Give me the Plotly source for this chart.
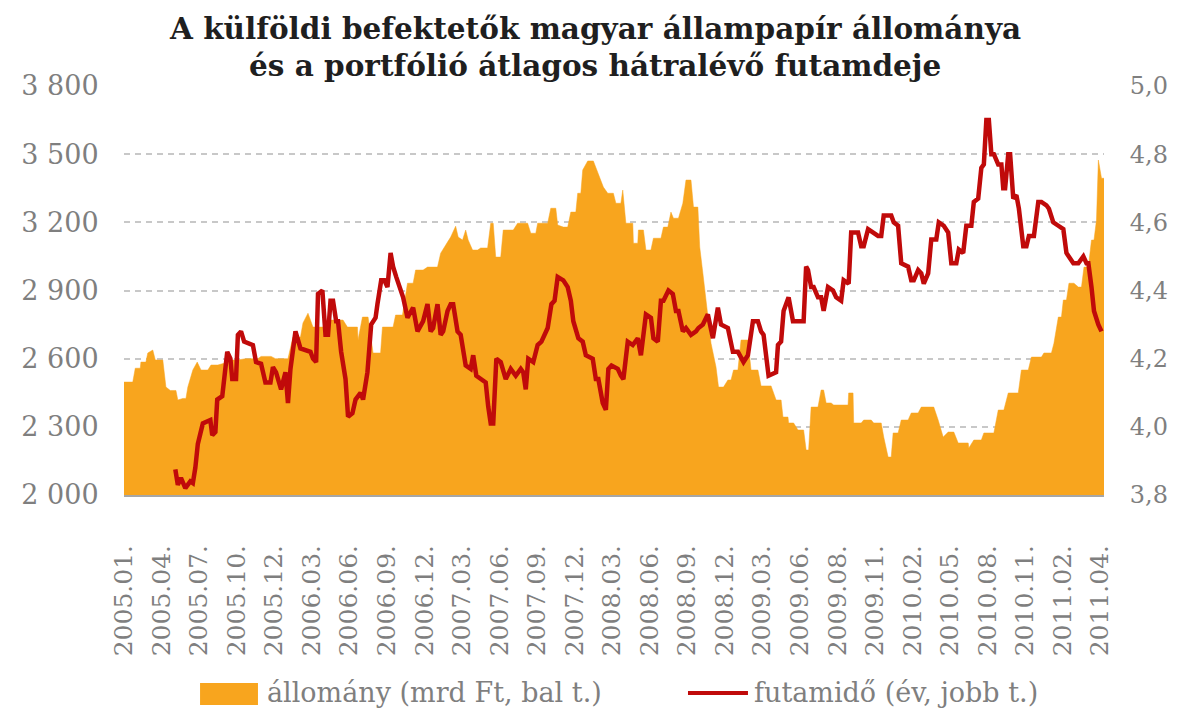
import plotly.graph_objects as go

# Trading-day index (labels every 60 trading days) and values
stock_day = [0, 14, 18, 26, 27, 35, 38, 46, 50, 62, 67, 74, 83, 86, 94, 99, 102, 110, 117, 123,
             134, 139, 150, 160, 171, 182, 194, 214, 219, 235, 242, 262, 270, 282, 286, 294, 302, 318, 325, 350,
             357, 373, 374, 381, 390, 398, 410, 413, 430, 434, 445, 453, 462, 466, 478, 485, 501, 506, 517, 522,
             530, 534, 541, 546, 550, 557, 565, 570, 581, 586, 590, 594, 602, 606, 622, 629, 645, 650, 658, 661,
             677, 682, 690, 693, 702, 709, 714, 722, 725, 730, 733, 741, 750, 757, 766, 773, 782, 786, 794, 797,
             802, 813, 814, 821, 822, 830, 834, 842, 846, 858, 862, 869, 874, 878, 886, 893, 898, 906, 910, 917,
             920, 925, 930, 938, 946, 950, 958, 965, 970, 974, 981, 986, 997, 1002, 1013, 1018, 1034, 1042, 1050, 1053,
             1061, 1062, 1070, 1077, 1086, 1090, 1094, 1098, 1109, 1114, 1118, 1122, 1130, 1134, 1157, 1158, 1165, 1166, 1178, 1182,
             1194, 1198, 1210, 1214, 1221, 1226, 1229, 1237, 1242, 1253, 1258, 1269, 1274, 1294, 1301, 1309, 1317, 1326, 1333, 1349,
             1350, 1358, 1370, 1374, 1390, 1397, 1406, 1413, 1429, 1434, 1445, 1450, 1466, 1470, 1482, 1486, 1493, 1498, 1501, 1506,
             1510, 1518, 1525, 1530, 1534, 1541, 1546, 1550, 1554, 1557, 1562, 1566]
stock_val = [2497, 2497, 2558, 2558, 2585, 2585, 2625, 2638, 2594, 2594, 2475, 2460, 2460, 2418, 2425, 2425, 2475, 2550, 2585, 2550,
             2550, 2572, 2572, 2580, 2594, 2594, 2600, 2600, 2610, 2610, 2600, 2600, 2695, 2695, 2757, 2800, 2739, 2739, 2770, 2770,
             2739, 2739, 2682, 2783, 2783, 2625, 2625, 2739, 2739, 2792, 2792, 2932, 2932, 2990, 2990, 3003, 3003, 3064, 3113, 3135,
             3183, 3135, 3122, 3166, 3122, 3078, 3078, 3087, 3087, 3196, 3196, 3047, 3047, 3166, 3166, 3196, 3196, 3152, 3152, 3196,
             3196, 3262, 3262, 3188, 3179, 3179, 3245, 3245, 3328, 3328, 3430, 3470, 3470, 3416, 3355, 3328, 3328, 3284, 3284, 3342,
             3196, 3196, 3108, 3108, 3166, 3166, 3078, 3078, 3130, 3130, 3179, 3179, 3245, 3218, 3218, 3284, 3386, 3386, 3267, 3267,
             3091, 2976, 2858, 2668, 2563, 2475, 2475, 2506, 2506, 2550, 2550, 2682, 2682, 2550, 2550, 2480, 2480, 2418, 2418, 2343,
             2343, 2317, 2317, 2286, 2286, 2198, 2198, 2387, 2387, 2462, 2462, 2405, 2405, 2396, 2396, 2449, 2449, 2317, 2317, 2330,
             2330, 2317, 2317, 2255, 2167, 2167, 2273, 2273, 2330, 2330, 2361, 2361, 2387, 2387, 2330, 2255, 2277, 2277, 2229, 2229,
             2207, 2242, 2242, 2273, 2273, 2374, 2374, 2449, 2449, 2550, 2550, 2607, 2607, 2625, 2625, 2668, 2783, 2783, 2858, 2858,
             2932, 2932, 2915, 2915, 3003, 3003, 3122, 3122, 3210, 3474, 3394, 3394]

mat_day = [82, 86, 91, 98, 106, 110, 114, 118, 122, 126, 138, 141, 146, 149, 157, 160, 165, 170, 173, 179,
           182, 187, 192, 206, 211, 219, 226, 234, 238, 243, 251, 258, 262, 266, 274, 282, 298, 302, 307, 310,
           317, 322, 326, 330, 334, 339, 342, 347, 354, 358, 365, 370, 378, 382, 389, 395, 402, 405, 411, 416,
           421, 426, 430, 435, 442, 446, 453, 458, 462, 469, 474, 478, 485, 490, 494, 501, 506, 510, 517, 522,
           526, 533, 538, 546, 554, 558, 563, 570, 578, 582, 586, 590, 595, 602, 610, 618, 626, 634, 638, 642,
           646, 654, 661, 667, 677, 683, 688, 693, 702, 709, 714, 718, 726, 733, 738, 749, 754, 758, 765, 770,
           774, 779, 789, 794, 798, 805, 813, 821, 826, 834, 842, 846, 853, 858, 862, 870, 877, 882, 886, 893,
           898, 906, 914, 918, 925, 933, 941, 949, 954, 965, 973, 981, 986, 990, 997, 1005, 1013, 1018, 1022, 1027,
           1030, 1042, 1045, 1050, 1054, 1062, 1069, 1086, 1090, 1093, 1098, 1102, 1109, 1114, 1118, 1125, 1133, 1138, 1146, 1150,
           1158, 1162, 1173, 1178, 1182, 1189, 1198, 1205, 1210, 1214, 1226, 1230, 1237, 1242, 1253, 1258, 1262, 1269, 1274, 1278,
           1285, 1290, 1298, 1302, 1310, 1317, 1322, 1330, 1334, 1341, 1346, 1354, 1358, 1365, 1370, 1374, 1378, 1382, 1386, 1390,
           1397, 1402, 1405, 1408, 1413, 1416, 1421, 1426, 1430, 1437, 1442, 1446, 1454, 1461, 1466, 1474, 1478, 1485, 1493, 1501,
           1506, 1510, 1517, 1525, 1533, 1538, 1541, 1546, 1550, 1557, 1562]
mat_val = [3.875, 3.83, 3.85, 3.82, 3.84, 3.835, 3.88, 3.95, 3.98, 4.01, 4.02, 3.975, 3.985, 4.08, 4.09, 4.13, 4.22, 4.2, 4.14, 4.14,
           4.27, 4.28, 4.25, 4.24, 4.19, 4.185, 4.13, 4.13, 4.175, 4.16, 4.11, 4.16, 4.07, 4.17, 4.28, 4.23, 4.22, 4.2, 4.19, 4.39,
           4.4, 4.27, 4.27, 4.37, 4.37, 4.31, 4.31, 4.22, 4.14, 4.03, 4.04, 4.08, 4.1, 4.08, 4.16, 4.3, 4.32, 4.36, 4.43, 4.43,
           4.41, 4.51, 4.47, 4.44, 4.4, 4.38, 4.32, 4.34, 4.35, 4.28, 4.3, 4.31, 4.36, 4.28, 4.29, 4.36, 4.27, 4.28, 4.34, 4.36,
           4.36, 4.28, 4.27, 4.18, 4.17, 4.21, 4.15, 4.14, 4.13, 4.06, 4.01, 4.01, 4.2, 4.19, 4.14, 4.17, 4.15, 4.17, 4.16, 4.11,
           4.2, 4.19, 4.24, 4.25, 4.29, 4.36, 4.37, 4.44, 4.43, 4.41, 4.37, 4.31, 4.26, 4.25, 4.21, 4.2, 4.14, 4.14, 4.07, 4.05,
           4.17, 4.18, 4.17, 4.15, 4.14, 4.25, 4.24, 4.26, 4.21, 4.33, 4.32, 4.26, 4.25, 4.37, 4.37, 4.4, 4.39, 4.34, 4.34, 4.28,
           4.29, 4.27, 4.28, 4.29, 4.3, 4.33, 4.26, 4.35, 4.3, 4.29, 4.22, 4.22, 4.2, 4.19, 4.21, 4.31, 4.31, 4.28, 4.27, 4.19,
           4.15, 4.16, 4.24, 4.25, 4.34, 4.38, 4.31, 4.31, 4.47, 4.46, 4.41, 4.41, 4.38, 4.38, 4.34, 4.41, 4.4, 4.38, 4.37, 4.43,
           4.42, 4.57, 4.57, 4.53, 4.53, 4.58, 4.57, 4.56, 4.56, 4.62, 4.62, 4.6, 4.59, 4.48, 4.47, 4.43, 4.43, 4.46, 4.45, 4.42,
           4.45, 4.55, 4.55, 4.6, 4.59, 4.57, 4.48, 4.48, 4.52, 4.51, 4.59, 4.59, 4.66, 4.67, 4.76, 4.77, 4.9, 4.9, 4.8, 4.8,
           4.77, 4.77, 4.7, 4.7, 4.8, 4.8, 4.67, 4.68, 4.64, 4.53, 4.53, 4.56, 4.56, 4.66, 4.66, 4.65, 4.64, 4.6, 4.59, 4.58,
           4.51, 4.5, 4.48, 4.48, 4.5, 4.48, 4.48, 4.41, 4.34, 4.3, 4.28]

x_labels = ["2005.01.", "2005.04.", "2005.07.", "2005.10.", "2005.12.", "2006.03.", "2006.06.", "2006.09.",
            "2006.12.", "2007.03.", "2007.06.", "2007.09.", "2007.12.", "2008.03.", "2008.06.", "2008.09.",
            "2008.12.", "2009.03.", "2009.06.", "2009.08.", "2009.11.", "2010.02.", "2010.05.", "2010.08.",
            "2010.11.", "2011.02.", "2011.04."]
label_step = 60
left_ticks = [2000, 2300, 2600, 2900, 3200, 3500, 3800]
left_text = ["2 000", "2 300", "2 600", "2 900", "3 200", "3 500", "3 800"]
right_ticks = [3.8, 4.0, 4.2, 4.4, 4.6, 4.8, 5.0]
right_text = ["3,8", "4,0", "4,2", "4,4", "4,6", "4,8", "5,0"]
title_lines = ["A külföldi befektetők magyar állampapír állománya",
               "és a portfólió átlagos hátralévő futamdeje"]
series_names = ["állomány (mrd Ft, bal t.)", "futamidő (év, jobb t.)"]

ORANGE = "#F8A51E"
RED = "#C00A0A"
GRAY = "#7F7F7F"
SERIF = "DejaVu Serif"

fig = go.Figure()
fig.add_trace(go.Scatter(x=stock_day, y=stock_val, name=series_names[0],
                         mode="lines", fill="tozeroy", fillcolor=ORANGE,
                         line=dict(color=ORANGE, width=0.5), yaxis="y", showlegend=False))
fig.add_trace(go.Scatter(x=mat_day, y=mat_val, name=series_names[1],
                         mode="lines", line=dict(color=RED, width=4.5), yaxis="y2", showlegend=False))

# title (two centred bold lines)
fig.add_annotation(text=title_lines[0], xref="paper", yref="paper", x=0.4806, y=1.1418,
                   xanchor="center", yanchor="middle", showarrow=False,
                   font=dict(family=SERIF, size=29.5, color="#1F1F1F", weight="bold"))
fig.add_annotation(text=title_lines[1], xref="paper", yref="paper", x=0.4806, y=1.0489,
                   xanchor="center", yanchor="middle", showarrow=False,
                   font=dict(family=SERIF, size=29.5, color="#1F1F1F", weight="bold"))

# manual legend
fig.add_shape(type="rect", xref="paper", yref="paper", x0=0.0776, x1=0.1367, y0=-0.5134, y1=-0.4597,
              fillcolor=ORANGE, line=dict(width=0))
fig.add_annotation(text=series_names[0], xref="paper", yref="paper", x=0.1439, y=-0.4841,
                   xanchor="left", yanchor="middle", showarrow=False,
                   font=dict(family=SERIF, size=27, color=GRAY))
fig.add_shape(type="line", xref="paper", yref="paper", x0=0.5755, x1=0.6367, y0=-0.4841, y1=-0.4841,
              line=dict(color=RED, width=4))
fig.add_annotation(text=series_names[1], xref="paper", yref="paper", x=0.6408, y=-0.4841,
                   xanchor="left", yanchor="middle", showarrow=False,
                   font=dict(family=SERIF, size=27, color=GRAY))

fig.update_layout(
    width=1176, height=705,
    paper_bgcolor="white", plot_bgcolor="white",
    margin=dict(l=116, r=80, t=78, b=218, autoexpand=False),
    xaxis=dict(range=[0, 1566], tickmode="array",
               tickvals=[i * label_step for i in range(len(x_labels))], ticktext=x_labels,
               tickangle=-90, tickfont=dict(family=SERIF, size=25, color=GRAY),
               showgrid=False, zeroline=False, showline=True, linecolor="#A6A6A6", linewidth=2,
               ticks="outside", ticklen=38, tickcolor="rgba(0,0,0,0)", automargin=False),
    yaxis=dict(range=[2000, 3800], tickmode="array", tickvals=left_ticks, ticktext=left_text,
               tickfont=dict(family=SERIF, size=27, color=GRAY),
               showgrid=True, gridcolor="#C8C8C8", griddash="6px,5px", gridwidth=1.5,
               zeroline=False, showline=False, automargin=False,
               ticks="outside", ticklen=19, tickcolor="rgba(0,0,0,0)"),
    yaxis2=dict(range=[3.8, 5.0], overlaying="y", side="right", tickmode="array",
                tickvals=right_ticks, ticktext=right_text,
                tickfont=dict(family=SERIF, size=24, color=GRAY),
                showgrid=False, zeroline=False, showline=False, automargin=False,
                ticks="outside", ticklen=20, tickcolor="rgba(0,0,0,0)"),
    showlegend=False,
)

fig.write_html("out.html")
